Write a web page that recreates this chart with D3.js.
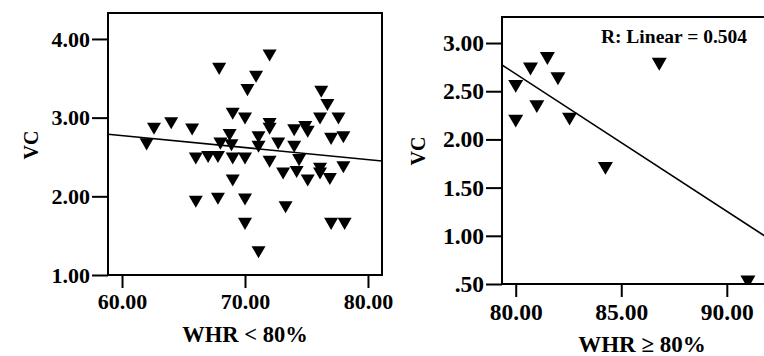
<!DOCTYPE html>
<html>
<head>
<meta charset="utf-8">
<script src="https://cdn.jsdelivr.net/npm/d3@7"></script>
<style>
  body { margin: 0; background: #fff; }
  svg { display: block; }
  text { font-family: "Liberation Serif", "Times New Roman", serif; font-weight: bold; fill: #000; }
</style>
</head>
<body>
<div id="chart"></div>
<script>
// WHR < 80% group
const whrLow = [62.0, 62.6, 64.0, 65.7, 66.0, 66.0, 67.0, 67.8, 67.9, 67.8, 68.0, 68.75, 68.9, 69.0, 69.0, 69.0,
  70.0, 70.0, 70.0, 70.0, 70.2, 70.9, 71.1, 71.1, 71.1, 72.0, 72.0, 72.0, 72.0, 72.7, 73.1, 73.3,
  74.0, 74.0, 74.2, 74.4, 74.9, 75.1, 75.1, 76.1, 76.1, 76.1, 76.2, 76.7, 76.9, 77.0, 77.0, 77.6, 78.0, 78.0, 78.1];
const vcLow = [2.66, 2.86, 2.93, 2.85, 2.48, 1.93, 2.50, 2.50, 3.62, 1.97, 2.67, 2.78, 2.65, 3.05, 2.48, 2.20,
  2.99, 2.48, 1.96, 1.65, 3.35, 3.52, 2.75, 2.63, 1.29, 3.79, 2.92, 2.86, 2.44, 2.67, 2.29, 1.86,
  2.84, 2.63, 2.31, 2.46, 2.88, 2.82, 2.20, 2.99, 2.35, 2.29, 3.33, 3.16, 2.22, 2.73, 1.65, 2.99, 2.75, 2.37, 1.65];

// WHR >= 80% group
const whrHigh = [80.0, 80.0, 80.7, 81.0, 81.5, 82.0, 82.55, 84.25, 86.8, 91.0];
const vcHigh = [2.55, 2.19, 2.73, 2.34, 2.84, 2.63, 2.21, 1.70, 2.78, 0.52];

// fitted lines [intercept, slope]
const fitLow = [3.688, -0.01526];
const fitHigh = [14.08, -0.1425];

const xTicksLow = [60, 70, 80];
const yTicksLow = [1, 2, 3, 4];
const xTicksHigh = [80, 85, 90];
const yTicksHigh = [0.5, 1, 1.5, 2, 2.5, 3];
const rLabel = 'R: Linear = 0.504';

const width = 764, height = 356;
const svg = d3.select('#chart').append('svg')
  .attr('width', width)
  .attr('height', height);

// SPSS style: two decimals, no leading zero
const fmt = v => d3.format('.2f')(v).replace(/^0\./, '.');

function drawPanel(cfg) {
  const x = d3.scaleLinear().domain(cfg.xDomain).range([cfg.left, cfg.right]);
  const y = d3.scaleLinear().domain(cfg.yDomain).range([cfg.bottom, cfg.top]);
  const g = svg.append('g');

  g.append('clipPath').attr('id', cfg.id)
    .append('rect')
    .attr('x', cfg.left).attr('y', cfg.top)
    .attr('width', cfg.right - cfg.left).attr('height', cfg.bottom - cfg.top);

  const plot = g.append('g').attr('clip-path', `url(#${cfg.id})`);

  // fit line
  const fx = x.domain();
  plot.append('line')
    .attr('x1', x(fx[0])).attr('y1', y(cfg.fit[0] + cfg.fit[1] * fx[0]))
    .attr('x2', x(fx[1])).attr('y2', y(cfg.fit[0] + cfg.fit[1] * fx[1]))
    .attr('stroke', '#000')
    .attr('stroke-width', 1.6);

  // down triangles
  const w = cfg.mark / 2, h = cfg.mark * 0.43;
  const tri = `M${-w},${-h}L${w},${-h}L0,${h}Z`;
  plot.selectAll('path.pt')
    .data(cfg.xs.map((d, i) => [d, cfg.ys[i]]))
    .enter()
    .append('path')
    .attr('class', 'pt')
    .attr('d', tri)
    .attr('transform', d => `translate(${x(d[0])},${y(d[1])})`)
    .attr('fill', '#000');

  // frame
  g.append('rect')
    .attr('x', cfg.left).attr('y', cfg.top)
    .attr('width', cfg.right - cfg.left).attr('height', cfg.bottom - cfg.top)
    .attr('fill', 'none')
    .attr('stroke', '#000')
    .attr('stroke-width', 2);

  const yAxis = g.append('g')
    .attr('transform', `translate(${cfg.left},0)`)
    .call(d3.axisLeft(y).tickValues(cfg.yTicks).tickFormat(fmt).tickSize(16).tickSizeOuter(0).tickPadding(2));
  const xAxis = g.append('g')
    .attr('transform', `translate(0,${cfg.bottom})`)
    .call(d3.axisBottom(x).tickValues(cfg.xTicks).tickFormat(fmt).tickSize(13).tickSizeOuter(0).tickPadding(cfg.xPad));

  [xAxis, yAxis].forEach(a => {
    a.select('.domain').remove();
    a.selectAll('line').attr('stroke', '#000').attr('stroke-width', 2);
    a.selectAll('text')
      .attr('fill', '#000')
      .style('font-family', '"Liberation Serif", serif')
      .style('font-weight', 'bold')
      .style('font-size', cfg.tickFont + 'px');
  });

  g.append('text')
    .attr('x', cfg.xTitlePos[0]).attr('y', cfg.xTitlePos[1])
    .attr('text-anchor', 'middle')
    .style('font-size', cfg.titleFont + 'px')
    .text(cfg.xTitle);

  g.append('text')
    .attr('transform', `translate(${cfg.yTitlePos[0]},${cfg.yTitlePos[1]}) rotate(-90)`)
    .attr('text-anchor', 'middle')
    .attr('dy', '0.35em')
    .style('font-size', '20px')
    .text('VC');

  return { x, y, g };
}

drawPanel({
  id: 'clipLow', left: 108, right: 382, top: 13, bottom: 275,
  xDomain: [58.86, 81.14], yDomain: [1, 4.33],
  xs: whrLow, ys: vcLow, fit: fitLow, mark: 14,
  xTicks: xTicksLow, yTicks: yTicksLow, xPad: 5, tickFont: 22, titleFont: 22.5,
  xTitle: 'WHR < 80%', xTitlePos: [245, 342], yTitlePos: [31, 145]
});

const right = drawPanel({
  id: 'clipHigh', left: 502, right: 780, top: 17, bottom: 284,
  xDomain: [79.35, 92.52], yDomain: [0.5, 3.27],
  xs: whrHigh, ys: vcHigh, fit: fitHigh, mark: 15,
  xTicks: xTicksHigh, yTicks: yTicksHigh, xPad: 6, tickFont: 23.5, titleFont: 23,
  xTitle: 'WHR \u2265 80%', xTitlePos: [642, 352], yTitlePos: [418, 151]
});

right.g.append('text')
  .attr('x', 674).attr('y', 43)
  .attr('text-anchor', 'middle')
  .style('font-size', '19.5px')
  .text(rLabel);
</script>
</body>
</html>
